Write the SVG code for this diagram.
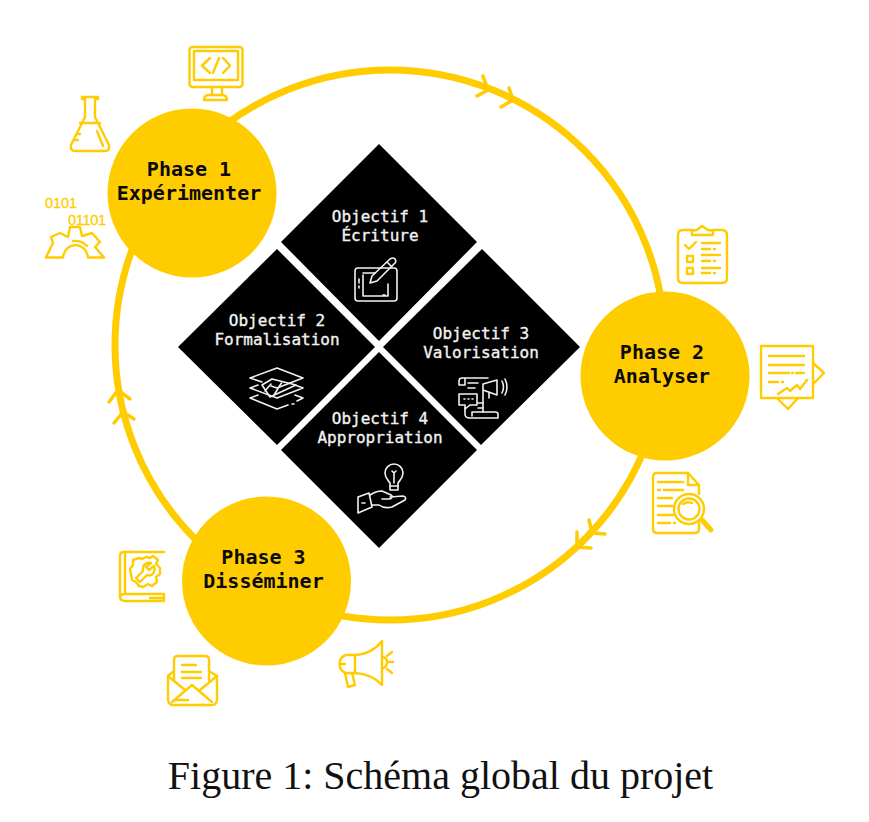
<svg xmlns="http://www.w3.org/2000/svg" width="869" height="822" viewBox="0 0 869 822">
<style>
.ph{fill:#FFCC00}
.ptx{font:bold 20px "DejaVu Sans Mono",monospace;fill:#0a0a0a;text-anchor:middle}
.otx{font:500 16px "DejaVu Sans Mono",monospace;fill:#f2f2f2;stroke:#f2f2f2;stroke-width:.35;text-anchor:middle}
.ring{fill:none;stroke:#FFCC00;stroke-width:7}
.chev{fill:none;stroke:#FFCC00;stroke-width:3.5;stroke-linecap:round;stroke-linejoin:round}
.yi{fill:none;stroke:#FFCC00;stroke-width:2.4;stroke-linecap:round;stroke-linejoin:round}
.wi{fill:none;stroke:#f2f2f2;stroke-width:1.6;stroke-linecap:round;stroke-linejoin:round}
.bin{font:14.500px "Liberation Sans",sans-serif;fill:#FFCC00;stroke:#FFCC00;stroke-width:.3}
</style>
<rect width="869" height="822" fill="#ffffff"/>
<g id="connectors">
<circle class="ring" cx="390" cy="345" r="275"/>
<path class="chev" d="M483 76L488 90L477 96M509 88L513 100L501 107"/>
<path class="chev" d="M589 520L592 533L605 534M577 532L577 547L591 548"/>
<path class="chev" d="M109 402L118 390L130 399M114 423L123 412L134 419"/>
</g>
<g id="phase1"><circle class="ph" cx="192" cy="193" r="84.5"/><text class="ptx" x="189" y="176">Phase 1</text><text class="ptx" x="189" y="200">Expérimenter</text></g>
<g id="phase2"><circle class="ph" cx="665" cy="376" r="84.5"/><text class="ptx" x="662" y="359">Phase 2</text><text class="ptx" x="662" y="383">Analyser</text></g>
<g id="phase3"><circle class="ph" cx="266.500" cy="581" r="84.5"/><text class="ptx" x="263.500" y="564">Phase 3</text><text class="ptx" x="263.500" y="588">Disséminer</text></g>
<g id="objectif1"><path d="M379 144L477 242L379 341L281 242Z"/><text class="otx" x="380" y="222">Objectif 1</text><text class="otx" x="380" y="241">Écriture</text>
<g class="wi"><rect x="355" y="268" width="42" height="33" rx="3"/><path d="M363 275V296H388V284M375 273H363M383 295H385M388 290V294M359 279V283M359 286V288"/><path d="M370 283L372 276L390 259Q393 257 395 259Q397 262 394 264L377 281Z"/><path d="M387 262L392 267"/></g></g>
<g id="objectif2"><path d="M277 249L375 347L277 445L178 347Z"/><text class="otx" x="277" y="326">Objectif 2</text><text class="otx" x="277" y="345">Formalisation</text>
<g class="wi"><path d="M250 378L277 368L303 378L277 388L271 386M262 382L250 378"/><path d="M258 385L250 388L277 398L303 388L295 385"/><path d="M258 395L250 398L277 409L288 405M292 404H294M297 401L303 398L295 395"/><path d="M262 385L272 379L296 385L270 397ZM271 384L265 391M282 382L274 395"/></g></g>
<g id="objectif3"><path d="M482 249L580 347L481 445L383 347Z"/><text class="otx" x="481" y="339">Objectif 3</text><text class="otx" x="481" y="358">Valorisation</text>
<g class="wi"><path d="M459 385V381Q459 378 462 378H488M465 385V378M459 385H465"/><path d="M483 384L497 380V395L483 390ZM483 390V412M489 392V398"/><path d="M468 383H478M468 388H475M478 403H483M478 408H483"/><path d="M502 381Q505 387 502 393M505 379Q509 387 505 395"/><path d="M459 394H477V405H470L465 409V405H459ZM464 399H465M468 399H469M472 399H473"/><path d="M465 409V414Q465 418 470 418H498V414Q498 412 495 412H472V416"/></g></g>
<g id="objectif4"><path d="M379 352L477 450L379 548L281 450Z"/><text class="otx" x="380" y="424">Objectif 4</text><text class="otx" x="380" y="443">Appropriation</text>
<g class="wi"><path d="M390 490V483C388 480 385 478 385 473A9 9 0 0 1 403 473C403 478 400 480 398 483V490Z"/><path d="M390 486H398M394 483V473M392 471L394 473L396 471"/><path d="M358 497L369 493L372 507L358 513Z"/><path d="M370 495Q376 491 382 491L391 495Q394 497 390 499L382 499M390 497L403 496Q407 497 405 500L392 507Q384 509 379 505L372 505"/><path d="M362 503H365"/></g></g>
<g id="icon-monitor" class="yi"><rect x="189.500" y="47" width="53" height="40" rx="3"/><rect x="194" y="51" width="44" height="29"/><path d="M210 58L202 65.500L210 73M223 58L230 65.500L223 73M219 58L213 73M212 87V95M222 87V95M204 100Q204 95 209 95H222Q227 95 227 100Z"/></g>
<g id="icon-flask" class="yi"><path d="M82 97H98V99H95V117L109 145Q110 151 105 151H75Q70 151 71 145L85 117V99H82Z"/><path d="M80 123H100M97 131L103 146M74 140H78M77 134H80"/></g>
<g id="icon-gear"><text class="bin" x="45" y="208" textLength="32">0101</text><text class="bin" x="68" y="224.500" textLength="38">01101</text><path class="yi" d="M46 257.500L53 243L51 237L60 233L68 237L70 227H80L82 236L92 233L100 242L95 247L104 257.500H88C86 241 65 241 63 257.500Z"/><path class="yi" d="M73 241Q81 240 87 246"/></g>
<g id="icon-clipboard" class="yi"><path d="M692 230H683Q678 230 678 235V278Q678 283 683 283H722Q727 283 727 278V235Q727 230 722 230H713"/><path d="M692 235V232Q692 230 697 230L702 226L708 230Q713 230 713 232V235Z"/><path d="M685 245L689 249L696 242M702 243H720M702 249H710M714 249H715M702 255H720M702 261H710M714 261H715M702 268H720M702 273H710M714 273H715"/><rect x="687" y="256" width="6" height="6"/><rect x="687" y="268" width="6" height="6"/></g>
<g id="icon-report" class="yi"><rect x="761" y="346" width="52" height="52"/><path d="M813 363L824 373L813 384M777 398L788 409L798 398M769 356H804M769 365H804M769 373H789M792 373H793M796 373H804M769 382H778M782 382H783M778 394L787 388L790 391L797 385L800 389L807 380"/></g>
<g id="icon-search" class="yi"><path d="M688 473H657Q653 473 653 477V529Q653 533 657 533H695Q699 533 699 529V523M699 494V485L688 473V485H699"/><circle cx="689" cy="509" r="15"/><circle cx="689" cy="509" r="10.500"/><path d="M683 504Q687 501 692 503"/><path d="M702 520L711 530" stroke-width="5"/><path d="M658 482H683M658 490H660M664 490H683M658 498H672M658 506H672M658 515H674M658 523H670M674 523H675"/></g>
<g id="icon-book" class="yi"><path d="M164 552H124Q120 552 120 556V596Q120 601 125 601H164V594H125Q120 594 120 598M125 552V594M150 598H163"/><path d="M146 557L150 558L153 556L158 560L156 564L160 568V574L156 577L157 582L152 586L148 584L143 587L139 586L136 582L132 580L131 574L130 569L133 565L133 560L139 558L142 559Z"/><path d="M154 566L149 570L146 567L151 563C146 562 142 565 143 571L136 578L140 582L147 575C152 577 156 572 154 566Z"/></g>
<g id="icon-mail" class="yi"><path d="M174 671L168 676V699Q168 705 173 705H212Q217 705 217 699V676L209 671"/><path d="M174 680V660Q174 656 178 656H205Q209 656 209 660V680"/><path d="M172 702L192 685L212 702M168 676L185 690M217 676L200 690M182 665H196M182 672H201M182 678H201M175 700H188M200 705H203"/></g>
<g id="icon-megaphone" class="yi"><path d="M355 655H346A9.500 9.500 0 0 0 346 673H355Z"/><path d="M355 655Q372 654 382 641V685Q372 674 355 673"/><path d="M382 657Q387 657 387 662Q387 668 382 668"/><path d="M345 673L348 687L355 685L352 673M341 664H345M392 652L387 656M388 662H393M387 669L392 673"/></g>
<text x="440.500" y="789" text-anchor="middle" font-family="Liberation Serif, serif" font-size="40" fill="#111">Figure 1: Schéma global du projet</text>
</svg>
